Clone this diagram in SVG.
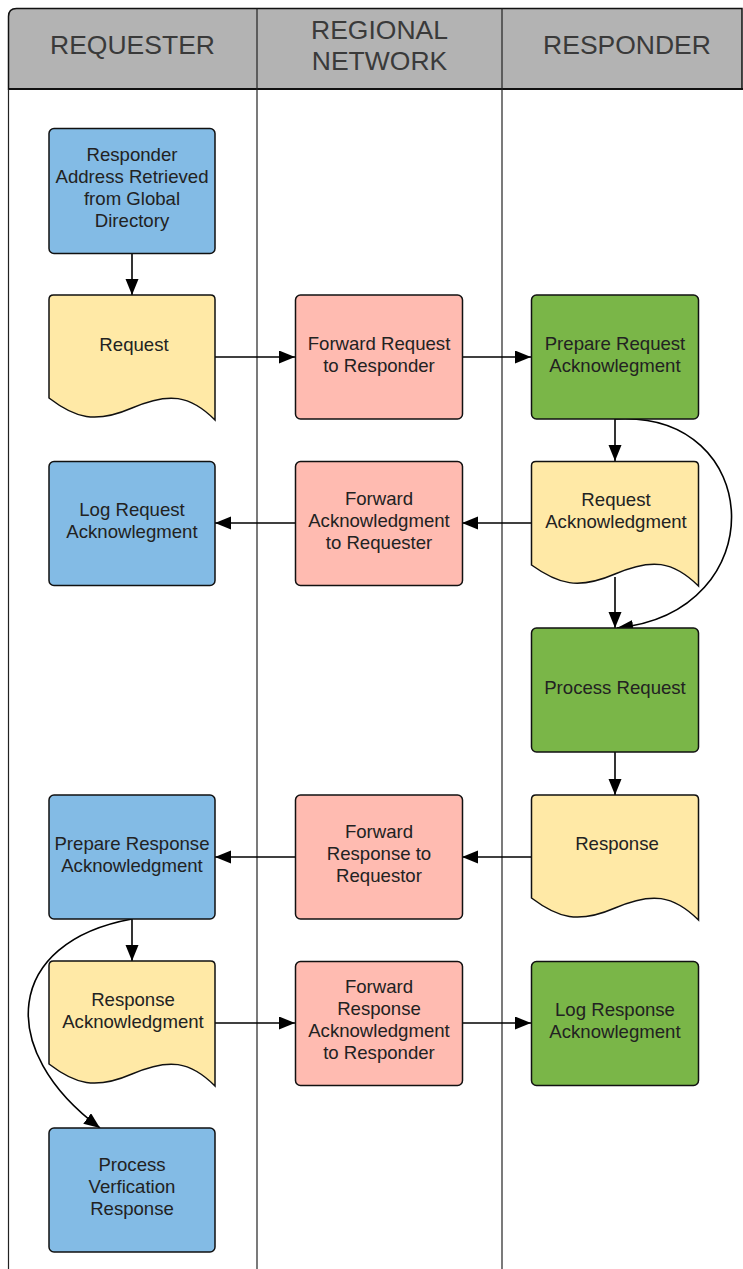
<svg xmlns="http://www.w3.org/2000/svg" width="743" height="1269" viewBox="0 0 743 1269">
<style>
.hdr{font-family:"Liberation Sans",Arial,sans-serif;font-size:26.5px;fill:#3a3a3a;text-anchor:middle}
.t{font-family:"Liberation Sans",Arial,sans-serif;font-size:18.6px;fill:#222;text-anchor:middle}
.n{stroke:#111;stroke-width:1.5}
.blue{fill:#83BBE5}
.pink{fill:#FFBBB1}
.green{fill:#7AB648}
.yellow{fill:#FFE9A6}
.c{fill:none;stroke:#000;stroke-width:1.6}
.lane{stroke:#222;stroke-width:1.2;fill:none}
</style>
<defs>
<marker id="arr" markerUnits="userSpaceOnUse" markerWidth="18" markerHeight="14" refX="16" refY="6.5" orient="auto">
<path d="M0,0 L16,6.5 L0,13 Z" fill="#000"/>
</marker>
</defs>
<rect width="743" height="1269" fill="#fff"/>
<g id="frame">
<path d="M8.5,89 V16.5 Q8.5,8.5 16.5,8.5 H742 V89 Z" fill="#B3B3B3" stroke="#111" stroke-width="1.5"/>
<line x1="8.5" y1="89" x2="743" y2="89" stroke="#111" stroke-width="2"/>
<line class="lane" x1="8.5" y1="89" x2="8.5" y2="1269"/>
<line class="lane" x1="257" y1="8.5" x2="257" y2="1269"/>
<line class="lane" x1="502" y1="8.5" x2="502" y2="1269"/>
<text class="hdr" x="132.5" y="54">REQUESTER</text>
<text class="hdr" x="379.5" y="39">REGIONAL</text>
<text class="hdr" x="379.5" y="70">NETWORK</text>
<text class="hdr" x="627" y="54">RESPONDER</text>
</g>
<g id="connectors">
<line class="c" x1="132" y1="253" x2="132" y2="295" marker-end="url(#arr)"/>
<line class="c" x1="215" y1="357" x2="295" y2="357" marker-end="url(#arr)"/>
<line class="c" x1="462" y1="357" x2="531" y2="357" marker-end="url(#arr)"/>
<line class="c" x1="615" y1="419" x2="615" y2="461" marker-end="url(#arr)"/>
<path class="c" d="M615,419 C765,410 775,612 617,628" marker-end="url(#arr)"/>
<line class="c" x1="615" y1="577" x2="615" y2="628" marker-end="url(#arr)"/>
<line class="c" x1="531" y1="523" x2="462" y2="523" marker-end="url(#arr)"/>
<line class="c" x1="295" y1="523" x2="215" y2="523" marker-end="url(#arr)"/>
<line class="c" x1="615" y1="752" x2="615" y2="795" marker-end="url(#arr)"/>
<line class="c" x1="531" y1="857" x2="462" y2="857" marker-end="url(#arr)"/>
<line class="c" x1="295" y1="857" x2="215" y2="857" marker-end="url(#arr)"/>
<line class="c" x1="132" y1="919" x2="132" y2="961" marker-end="url(#arr)"/>
<path class="c" d="M132,919 C5,942 -5,1050 100,1128" marker-end="url(#arr)"/>
<line class="c" x1="215" y1="1023" x2="295" y2="1023" marker-end="url(#arr)"/>
<line class="c" x1="462" y1="1023" x2="531" y2="1023" marker-end="url(#arr)"/>
</g>
<g id="n1">
<rect class="n blue" x="49" y="128.5" width="166" height="125" rx="5"/>
<text class="t" x="132" y="161">Responder</text>
<text class="t" x="132" y="183">Address Retrieved</text>
<text class="t" x="132" y="205">from Global</text>
<text class="t" x="132" y="227">Directory</text>
</g>
<g id="n2">
<path class="n yellow" d="M49,398 V299.5 Q49,295 53.5,295 H210.5 Q215,295 215,299.5 V420 C190,395 169,392 132,408 C95,424 75,418 49,398 Z"/>
<text class="t" x="134" y="351">Request</text>
</g>
<g id="n3">
<rect class="n pink" x="295.5" y="295" width="167" height="124" rx="5"/>
<text class="t" x="379" y="350">Forward Request</text>
<text class="t" x="379" y="372">to Responder</text>
</g>
<g id="n4">
<rect class="n green" x="531.5" y="295" width="167" height="124" rx="5"/>
<text class="t" x="615" y="350">Prepare Request</text>
<text class="t" x="615" y="372">Acknowlegment</text>
</g>
<g id="n5">
<rect class="n blue" x="49" y="461.5" width="166" height="124" rx="5"/>
<text class="t" x="132" y="516">Log Request</text>
<text class="t" x="132" y="538">Acknowlegment</text>
</g>
<g id="n6">
<rect class="n pink" x="295.5" y="461.5" width="167" height="124" rx="5"/>
<text class="t" x="379" y="505">Forward</text>
<text class="t" x="379" y="527">Acknowledgment</text>
<text class="t" x="379" y="549">to Requester</text>
</g>
<g id="n7">
<path class="n yellow" d="M531.5,565 V465.5 Q531.5,461.5 536,461.5 H694 Q698.5,461.5 698.5,466 V586 C673,561 652,558 615,574 C578,590 558,584 531.5,565 Z"/>
<text class="t" x="616" y="506">Request</text>
<text class="t" x="616" y="528">Acknowledgment</text>
</g>
<g id="n8">
<rect class="n green" x="531.5" y="628" width="167" height="124" rx="5"/>
<text class="t" x="615" y="694">Process Request</text>
</g>
<g id="n9">
<rect class="n blue" x="49" y="795" width="166" height="124" rx="5"/>
<text class="t" x="132" y="850">Prepare Response</text>
<text class="t" x="132" y="872">Acknowledgment</text>
</g>
<g id="n10">
<rect class="n pink" x="295.5" y="795" width="167" height="124" rx="5"/>
<text class="t" x="379" y="838">Forward</text>
<text class="t" x="379" y="860">Response to</text>
<text class="t" x="379" y="882">Requestor</text>
</g>
<g id="n11">
<path class="n yellow" d="M531.5,898 V799.5 Q531.5,795 536,795 H694 Q698.5,795 698.5,799.5 V920 C673,895 652,892 615,908 C578,924 558,918 531.5,898 Z"/>
<text class="t" x="617" y="850">Response</text>
</g>
<g id="n12">
<path class="n yellow" d="M49,1064 V965.5 Q49,961 53.5,961 H210.5 Q215,961 215,965.5 V1086 C190,1061 169,1058 132,1074 C95,1090 75,1084 49,1064 Z"/>
<text class="t" x="133" y="1006">Response</text>
<text class="t" x="133" y="1028">Acknowledgment</text>
</g>
<g id="n13">
<rect class="n pink" x="295.5" y="961.5" width="167" height="124" rx="5"/>
<text class="t" x="379" y="993">Forward</text>
<text class="t" x="379" y="1015">Response</text>
<text class="t" x="379" y="1037">Acknowledgment</text>
<text class="t" x="379" y="1059">to Responder</text>
</g>
<g id="n14">
<rect class="n green" x="531.5" y="961.5" width="167" height="124" rx="5"/>
<text class="t" x="615" y="1016">Log Response</text>
<text class="t" x="615" y="1038">Acknowlegment</text>
</g>
<g id="n15">
<rect class="n blue" x="49" y="1128" width="166" height="124" rx="5"/>
<text class="t" x="132" y="1171">Process</text>
<text class="t" x="132" y="1193">Verfication</text>
<text class="t" x="132" y="1215">Response</text>
</g>
</svg>
